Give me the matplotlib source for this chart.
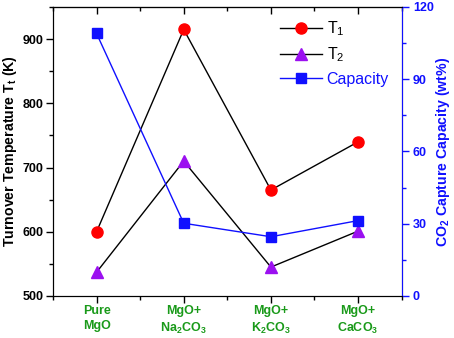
import numpy as np
import matplotlib
matplotlib.use('Agg')
import matplotlib.pyplot as plt
from matplotlib.ticker import MultipleLocator

plt.rcParams['font.family'] = ['Liberation Sans', 'DejaVu Sans']
plt.rcParams['mathtext.fontset'] = 'custom'
plt.rcParams['mathtext.rm'] = 'Liberation Sans'
plt.rcParams['mathtext.bf'] = 'Liberation Sans:bold'
plt.rcParams['mathtext.default'] = 'regular'

samples = ['Pure\nMgO', 'MgO+\nNa$_\\mathbf{2}$CO$_\\mathbf{3}$',
           'MgO+\nK$_\\mathbf{2}$CO$_\\mathbf{3}$', 'MgO+\nCaCO$_\\mathbf{3}$']
t1 = [600, 915, 665, 740]
t2 = [537, 710, 545, 601]
capacity = [109, 30.2, 24.6, 31.3]

x = np.arange(len(samples))
green = '#1a9a1a'
blue = '#1010ff'

fig = plt.figure(figsize=(4.54, 3.38), dpi=100)
ax = fig.add_axes([0.1167, 0.1243, 0.768, 0.855])
ax2 = ax.twinx()

l1, = ax.plot(x, t1, '-', color='k', lw=1, marker='o', ms=8, mfc='#ff0000', mec='#ff0000', label='T$_1$')
l2, = ax.plot(x, t2, '-', color='k', lw=1, marker='^', ms=8, mfc='#9b10f0', mec='#9b10f0', label='T$_2$')
l3, = ax2.plot(x, capacity, '-', color=blue, lw=1, marker='s', ms=7, mfc=blue, mec=blue, label='Capacity')

ax.set_xlim(-0.5, 3.5)
ax.set_ylim(500, 950)
ax2.set_ylim(0, 120)
ax.set_xticks(x)
ax.set_xticklabels(samples, color=green, fontweight='bold', fontsize=9, linespacing=1.35)
ax.xaxis.set_minor_locator(MultipleLocator(0.5))
ax.yaxis.set_major_locator(MultipleLocator(100))
ax.yaxis.set_minor_locator(MultipleLocator(50))
ax2.yaxis.set_major_locator(MultipleLocator(30))
ax2.yaxis.set_minor_locator(MultipleLocator(15))

ax.tick_params(axis='x', which='major', direction='out', length=5, width=1, pad=1.5)
ax.tick_params(axis='x', which='minor', direction='out', length=3, width=1)

# top axis ticks point inward
top = ax.secondary_xaxis('top')
top.set_xticks(x)
top.xaxis.set_minor_locator(MultipleLocator(0.5))
top.tick_params(axis='x', which='major', direction='in', length=5, width=1, labeltop=False)
top.tick_params(axis='x', which='minor', direction='in', length=3, width=1)

ax.tick_params(axis='y', which='major', direction='out', length=5, width=1, labelsize=9, pad=2)
ax.tick_params(axis='y', which='minor', direction='out', length=3, width=1)
for lab in ax.get_yticklabels():
    lab.set_fontweight('bold')

ax2.tick_params(axis='y', which='major', direction='out', length=5, width=1, colors=blue, labelsize=9, pad=3)
ax2.tick_params(axis='y', which='minor', direction='out', length=3, width=1, colors=blue)
for lab in ax2.get_yticklabels():
    lab.set_fontweight('bold')
ax2.spines['right'].set_color(blue)

ax.set_ylabel('Turnover Temperature T$_\\mathbf{t}$ (K)', fontsize=10.2, fontweight='bold', labelpad=2)
ax2.set_ylabel('CO$_\\mathbf{2}$ Capture Capacity (wt%)', fontsize=10.2, fontweight='bold', color=blue, labelpad=0.5)

leg = ax2.legend(handles=[l1, l2, l3], loc='upper right', bbox_to_anchor=(1.0, 1.0),
                 frameon=False, fontsize=11.5, handlelength=2.6, handletextpad=0.3,
                 labelspacing=0.45, borderaxespad=0.4)
leg.get_texts()[2].set_color(blue)

fig.savefig('out.png', dpi=100)
